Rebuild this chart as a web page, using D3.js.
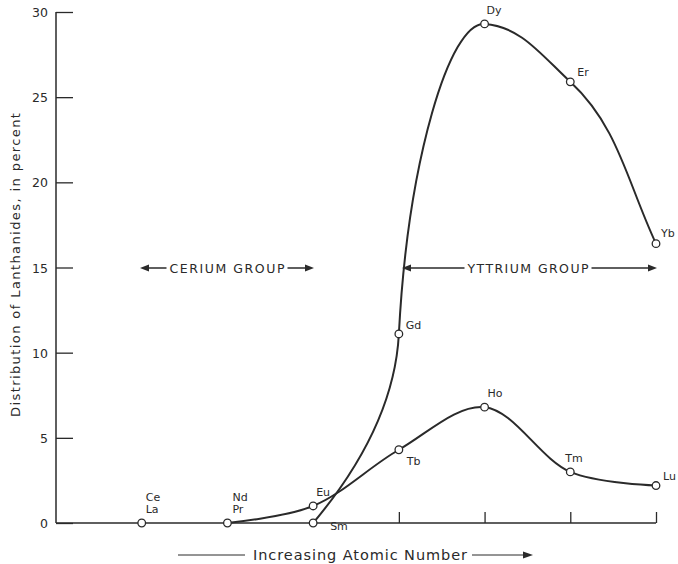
<!DOCTYPE html>
<html>
<head>
<meta charset="utf-8">
<script src="https://cdn.jsdelivr.net/npm/d3@7/dist/d3.min.js"></script>
<style>
  body { margin: 0; background: #fff; }
  svg { display: block; font-family: "DejaVu Sans", sans-serif; }
  text { fill: #2a2a2a; }
</style>
</head>
<body>
<svg id="chart" width="678" height="564"></svg>
<script>
"use strict";

// positions along the axis (1 = Ce/La ... 7 = Yb/Lu)
var ceriumPos = [1];
var ceriumVals = [0];
var ceriumNames = ["Ce\nLa"];

// lower curve
var lowNames = ["Nd\nPr", "Eu", "Tb", "Ho", "Tm", "Lu"];
var lowPos = [2, 3, 4, 5, 6, 7];
var lowVals = [0, 1.0, 4.3, 6.8, 3.0, 2.2];

// upper curve
var highNames = ["Sm", "Gd", "Dy", "Er", "Yb"];
var highPos = [3, 4, 5, 6, 7];
var highVals = [0, 11.1, 29.3, 25.9, 16.4];

var yTicks = [0, 5, 10, 15, 20, 25, 30];
var xTicks = [4, 5, 6, 7];

// hand-drawn look of the upper curve: pen direction at each point (degrees)
// and how far each piece bulges
var highAngles = [50, 87, -4, -43, -65];
var highBend = [0.36, 0.55, 0.4, 0.38];

// label offsets (px) for each point
var ceriumOff = [[4, -22]];
var lowOff = [[5, -22], [3, -10], [8, 15], [3, -10], [-5, -10], [7, -6]];
var highOff = [[17, 7], [7, -5], [2, -10], [7, -6], [5, -7]];

var svg = d3.select("#chart");
var x = d3.scaleLinear().domain([0, 7]).range([56, 656]);
var y = d3.scaleLinear().domain([0, 30]).range([523, 12]);
var ink = "#2a2a2a";

// y axis
var yAxis = d3.axisRight(y).tickValues(yTicks).tickSize(17).tickFormat("");
var gy = svg.append("g").attr("transform", "translate(56,0)").call(yAxis);
gy.select(".domain").remove();
gy.selectAll(".tick line").attr("stroke", ink).attr("stroke-width", 1.3);
svg.append("line").attr("x1", 56).attr("x2", 56).attr("y1", y(0)).attr("y2", y(30))
  .attr("stroke", ink).attr("stroke-width", 1.5);
svg.selectAll(".ylab").data(yTicks).enter().append("text")
  .attr("class", "ylab")
  .attr("x", 48).attr("y", function (d) { return y(d) + 5; })
  .attr("text-anchor", "end").attr("font-size", 12.5)
  .text(function (d) { return d; });

// x axis
svg.append("line").attr("x1", 56).attr("x2", x(7)).attr("y1", y(0)).attr("y2", y(0))
  .attr("stroke", ink).attr("stroke-width", 1.5);
var xAxis = d3.axisTop(x).tickValues(xTicks).tickSize(11).tickFormat("");
var gx = svg.append("g").attr("transform", "translate(0," + y(0) + ")").call(xAxis);
gx.select(".domain").remove();
gx.selectAll(".tick line").attr("stroke", ink).attr("stroke-width", 1.3);

// axis titles
svg.append("text")
  .attr("transform", "translate(20,265) rotate(-90)")
  .attr("text-anchor", "middle").attr("font-size", 13)
  .attr("textLength", 304).attr("lengthAdjust", "spacing")
  .text("Distribution of Lanthanides, in percent");

svg.append("text").attr("x", 360).attr("y", 560)
  .attr("text-anchor", "middle").attr("font-size", 14.5)
  .attr("textLength", 214).attr("lengthAdjust", "spacing")
  .text("Increasing Atomic Number");
svg.append("line").attr("x1", 178).attr("x2", 245).attr("y1", 555).attr("y2", 555)
  .attr("stroke", ink).attr("stroke-width", 1);
svg.append("line").attr("x1", 472).attr("x2", 526).attr("y1", 555).attr("y2", 555)
  .attr("stroke", ink).attr("stroke-width", 1);
svg.append("path").attr("d", "M533,555 L523,551.5 L523,558.5 Z").attr("fill", ink);

// curves
function series(pos, vals) {
  return pos.map(function (p, i) { return [x(p), y(vals[i])]; });
}
var line = d3.line().curve(d3.curveCatmullRom.alpha(0.5));
svg.append("path").attr("d", line(series(lowPos, lowVals)))
  .attr("fill", "none").attr("stroke", ink).attr("stroke-width", 2);

// upper curve: cubic pieces that leave each point along the drawn direction
function penCurve(pts, angles, bend) {
  var p = d3.path();
  var dirs = angles.map(function (a) {
    var r = a * Math.PI / 180;
    return [Math.cos(r), -Math.sin(r)];
  });
  p.moveTo(pts[0][0], pts[0][1]);
  for (var i = 0; i < pts.length - 1; i++) {
    var a = pts[i], b = pts[i + 1], k = bend[i];
    var cx = b[0] - a[0], cy = b[1] - a[1];
    var h0 = k * Math.abs(cx * dirs[i][0] + cy * dirs[i][1]);
    var h1 = k * Math.abs(cx * dirs[i + 1][0] + cy * dirs[i + 1][1]);
    p.bezierCurveTo(a[0] + dirs[i][0] * h0, a[1] + dirs[i][1] * h0,
      b[0] - dirs[i + 1][0] * h1, b[1] - dirs[i + 1][1] * h1, b[0], b[1]);
  }
  return p.toString();
}
svg.append("path").attr("d", penCurve(series(highPos, highVals), highAngles, highBend))
  .attr("fill", "none").attr("stroke", ink).attr("stroke-width", 2);

// group arrows
function groupArrow(x1, x2, yy, label, tx, tw) {
  var g = svg.append("g");
  g.append("line").attr("x1", x1 + 6).attr("x2", x2 - 6).attr("y1", yy).attr("y2", yy)
    .attr("stroke", ink).attr("stroke-width", 1.3);
  g.append("path").attr("d", "M" + x1 + "," + yy + " l9,-3.5 l0,7 Z").attr("fill", ink);
  g.append("path").attr("d", "M" + x2 + "," + yy + " l-9,-3.5 l0,7 Z").attr("fill", ink);
  var t = g.append("text").attr("x", tx).attr("y", yy + 5)
    .attr("text-anchor", "middle").attr("font-size", 12.5)
    .attr("textLength", tw).attr("lengthAdjust", "spacing")
    .text(label);
  g.insert("rect", "text").attr("x", tx - tw / 2 - 3).attr("y", yy - 8)
    .attr("width", tw + 6).attr("height", 16).attr("fill", "#fff");
}
groupArrow(140, 314, 268, "CERIUM GROUP", 227, 115);
groupArrow(402, 657, 268, "YTTRIUM GROUP", 528, 121);

// points and labels
function points(pos, vals, names, off) {
  var g = svg.append("g");
  g.selectAll("circle").data(pos).enter().append("circle")
    .attr("cx", function (d) { return x(d); })
    .attr("cy", function (d, i) { return y(vals[i]); })
    .attr("r", 3.8).attr("fill", "#fff").attr("stroke", ink).attr("stroke-width", 1.3);
  g.selectAll("text").data(names).enter().append("text")
    .attr("x", function (d, i) { return x(pos[i]) + off[i][0]; })
    .attr("y", function (d, i) { return y(vals[i]) + off[i][1]; })
    .attr("font-size", 11)
    .each(function (d) {
      var t = d3.select(this);
      d.split("\n").forEach(function (s, k) {
        t.append("tspan").attr("x", t.attr("x")).attr("dy", k ? 12 : 0).text(s);
      });
    });
}
points(ceriumPos, ceriumVals, ceriumNames, ceriumOff);
points(lowPos, lowVals, lowNames, lowOff);
points(highPos, highVals, highNames, highOff);
</script>
</body>
</html>
